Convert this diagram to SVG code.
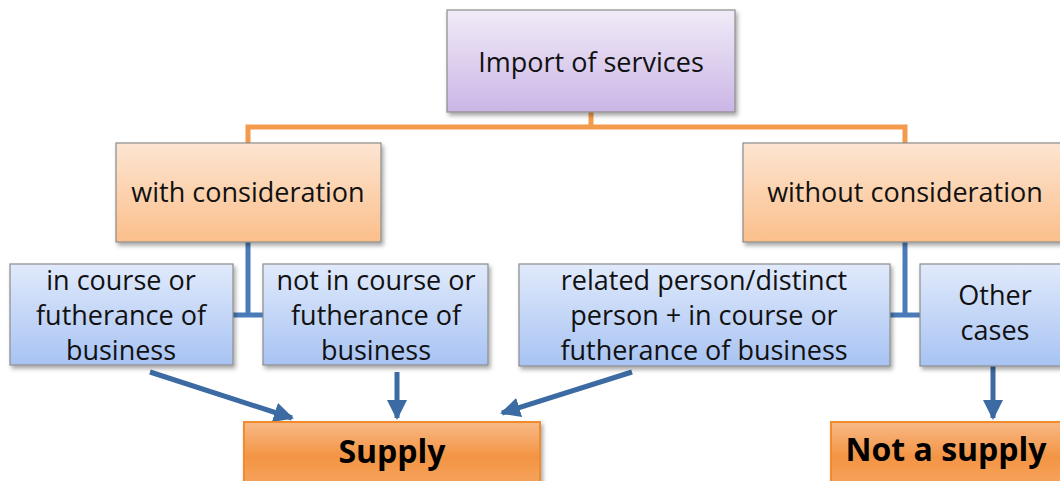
<svg xmlns="http://www.w3.org/2000/svg" width="1060" height="481" viewBox="0 0 1060 481">
<defs>
<linearGradient id="gPurple" x1="0" y1="0" x2="0" y2="1"><stop offset="0" stop-color="#f1ebf8"/><stop offset="1" stop-color="#cbb6e6"/></linearGradient>
<linearGradient id="gPeach" x1="0" y1="0" x2="0" y2="1"><stop offset="0" stop-color="#fde5d2"/><stop offset="1" stop-color="#fbbf8b"/></linearGradient>
<linearGradient id="gBlue" x1="0" y1="0" x2="0" y2="1"><stop offset="0" stop-color="#e0eafb"/><stop offset="1" stop-color="#a8c3f3"/></linearGradient>
<linearGradient id="gOrange" x1="0" y1="0" x2="0" y2="1"><stop offset="0" stop-color="#f8b987"/><stop offset="0.5" stop-color="#f39443"/><stop offset="1" stop-color="#f7a866"/></linearGradient>
<filter id="sh" x="-10%" y="-10%" width="125%" height="130%"><feDropShadow dx="2" dy="3" stdDeviation="2" flood-color="#000" flood-opacity="0.35"/></filter>
<marker id="ah" viewBox="0 0 10 10" refX="9" refY="5" markerWidth="4" markerHeight="4" orient="auto" markerUnits="strokeWidth"><path d="M0,0 L10,5 L0,10 z" fill="#3c6aa3"/></marker>
</defs>
<style>
.box{stroke:#8c8c8c;stroke-width:1.2;filter:url(#sh)}
.t{font-family:"Open Sans","Noto Sans",sans-serif;font-size:27px;fill:#111;text-anchor:middle}
.tb{font-family:"Open Sans","Noto Sans",sans-serif;font-size:32px;font-weight:bold;fill:#000;text-anchor:middle}
.oc{stroke:#f39a4c;stroke-width:5;fill:none}
.bc{stroke:#4a7bb8;stroke-width:5;fill:none}
.ar{stroke:#3c6aa3;stroke-width:5;fill:none;marker-end:url(#ah)}
</style>
<g id="connectors">
<path class="oc" d="M591,112 V127 M248,143 V127 H905 V143"/>
<path class="bc" d="M248,242 V315 M233,315 H263"/>
<path class="bc" d="M905,242 V315 M890,315 H920"/>
<path class="ar" d="M150,372 L292,418"/>
<path class="ar" d="M397,372 V418"/>
<path class="ar" d="M632,372 L502,413"/>
<path class="ar" d="M993,366 V418"/>
</g>
<g id="import"><rect class="box" x="447" y="10" width="288" height="102" fill="url(#gPurple)"/><text class="t" x="591" y="72">Import of services</text></g>
<g id="with"><rect class="box" x="116" y="143" width="265" height="99" fill="url(#gPeach)"/><text class="t" x="248" y="202">with consideration</text></g>
<g id="without"><rect class="box" x="743" y="143" width="330" height="99" fill="url(#gPeach)"/><text class="t" x="905" y="202">without consideration</text></g>
<g id="incourse"><rect class="box" x="10" y="264" width="223" height="101" fill="url(#gBlue)"/><text class="t" x="121" y="290">in course or</text><text class="t" x="121" y="325">futherance of</text><text class="t" x="121" y="360">business</text></g>
<g id="notincourse"><rect class="box" x="263" y="264" width="225" height="101" fill="url(#gBlue)"/><text class="t" x="376" y="290">not in course or</text><text class="t" x="376" y="325">futherance of</text><text class="t" x="376" y="360">business</text></g>
<g id="related"><rect class="box" x="519" y="264" width="371" height="102" fill="url(#gBlue)"/><text class="t" x="704" y="290">related person/distinct</text><text class="t" x="704" y="325">person + in course or</text><text class="t" x="704" y="360">futherance of business</text></g>
<g id="other"><rect class="box" x="920" y="264" width="150" height="102" fill="url(#gBlue)"/><text class="t" x="995" y="305">Other</text><text class="t" x="995" y="340">cases</text></g>
<g id="supply"><rect x="244" y="422" width="296" height="70" fill="url(#gOrange)" stroke="#f28a2e" stroke-width="2" filter="url(#sh)"/><text class="tb" x="392" y="463">Supply</text></g>
<g id="notsupply"><rect x="831" y="422" width="240" height="70" fill="url(#gOrange)" stroke="#f28a2e" stroke-width="2" filter="url(#sh)"/><text class="tb" x="946" y="461">Not a supply</text></g>
</svg>
